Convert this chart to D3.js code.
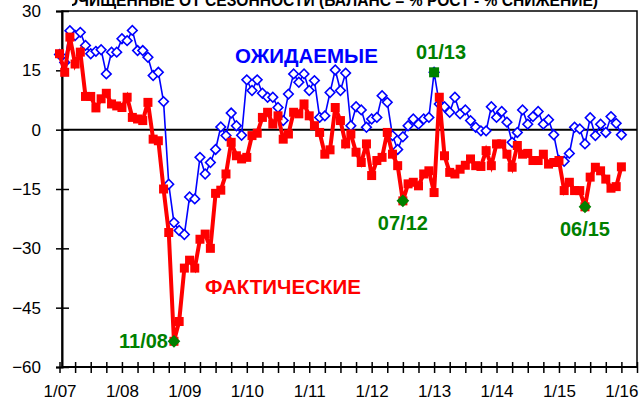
<!DOCTYPE html>
<html>
<head>
<meta charset="utf-8">
<script src="https://cdn.jsdelivr.net/npm/d3@7"></script>
<style>
  body { margin: 0; background: #fff; }
  svg { display: block; font-family: Arial, "Liberation Sans", sans-serif; }
</style>
</head>
<body>
<div id="chart"></div>
<script>
// monthly values, first point = 1/07, last point = 1/16
var yearLabels = ["1/07", "1/08", "1/09", "1/10", "1/11", "1/12", "1/13", "1/14", "1/15", "1/16"];
var yTicks = [-60, -45, -30, -15, 0, 15, 30];

var actual = [
  19.2, 14.5, 23.4, 16.6, 19.6, 8.4, 8.4, 5.5, 7.8, 9.2,
  6.5, 6, 5.6, 8.2, 3.1, 2.7, 2.3, 6.9, -2.4, -2.8,
  -15, -26, -53.5, -48.5, -35, -33, -35, -27.7, -26.4, -30,
  -16.1, -15.3, -11.2, -3.2, -6.6, -7.4, -7, -1.5, -0.9, 3.1,
  4.4, 1.4, 3.5, -2.4, -1.1, 4.4, 4, 6.5, 3.5, 1,
  -0.7, -6.2, -5.1, 5.6, 2.3, -3.6, -1.1, -5.7, -8.3, -3.6,
  -11.6, -7.8, -7, -0.7, -6.2, -9.1, -18, -13.7, -13.3, -14.2,
  -11.2, -10.4, -15.9, 8.2, -6.6, -10.8, -11.2, -10, -9, -7.4,
  -9.1, -9.3, -5.3, -9.1, -3.6, -3.6, -6.2, -9.5, -4, -6.2,
  -6, -7.8, -7.8, -6.2, -8.7, -8.3, -7.8, -15.4, -13.3, -15.4,
  -15.4, -19.5, -12, -9.5, -10.4, -12.5, -14.8, -14.4, -9.4
];

var expected = [
  19, 17, 25, 23.8, 24.6, 21.3, 19.2, 19.8, 20.2, 14.1,
  19.6, 19.6, 23, 22.5, 25.1, 20, 20, 18.3, 13.7, 14.5,
  7.1, -13.8, -23.5, -25.5, -26.5, -17, -17.5, -7, -11.2, -8.3,
  -5, 0.7, -1.5, 4.2, 1, -1.4, 12.6, 9.9, 12.6, 9.2,
  8.2, 8.2, 5.6, 2.3, 9, 14.1, 12, 14.1, 9.9, 12.4,
  3.1, 3.5, 9.4, 15.1, 9.9, 14.3, 1, 5.8, 5, 0.6,
  2.7, 3.1, 8.6, 6.9, -1.5, -5, -1.8, 1, 2.7, 1.4,
  2.7, 3.1, 14.5, 6.5, 5.8, 4.4, 8.2, 4, 5, 2.3,
  0.6, -0.3, -0.3, 5.8, 3.1, 4.6, 1.9, -3.2, -0.7, 5,
  1.4, 3.3, 4.6, 1.4, 2.5, -1.3, -7.8, -8, -6, 0.6,
  0.2, -3.6, 3, -1.5, 1.4, -0.7, 3.3, 1.6, -1.3
];

// highlighted points
var noteLabels = ["11/08", "07/12", "01/13", "06/15"];
var noteMonths = [22, 66, 72, 101];
var noteSeries = ["actual", "actual", "expected", "actual"];

var width = 642, height = 401;
var plotLeft = 62, plotRight = 637, plotTop = 11, plotBottom = 367;
var green = "#008000";

var svg = d3.select("#chart").append("svg")
            .attr("width", width)
            .attr("height", height);

var x = d3.scaleLinear()
          .domain([0, 111])
          .range([59.5, plotRight]);

var y = d3.scaleLinear()
          .domain([-60, 30])
          .range([plotBottom, plotTop]);

// title: only the lower half and the right part show in the picture
svg.append("clipPath").attr("id", "titleClip")
   .append("rect").attr("x", 72).attr("y", -20).attr("width", 570).attr("height", 40);

svg.append("text")
   .attr("clip-path", "url(#titleClip)")
   .attr("x", 598).attr("y", 6)
   .attr("text-anchor", "end")
   .attr("font-size", 15.6).attr("font-weight", "bold")
   .text("ОЧИЩЕННЫЕ ОТ СЕЗОННОСТИ (БАЛАНС = % РОСТ - % СНИЖЕНИЕ)");

// frame
svg.append("rect")
   .attr("x", plotLeft).attr("y", plotTop)
   .attr("width", plotRight - plotLeft).attr("height", plotBottom - plotTop)
   .attr("fill", "none").attr("stroke", "#000").attr("stroke-width", 1.5);

// zero line
svg.append("line")
   .attr("x1", plotLeft).attr("x2", plotRight)
   .attr("y1", y(0)).attr("y2", y(0))
   .attr("stroke", "#000").attr("stroke-width", 2);

// axes
var yAxis = d3.axisLeft(y).tickValues(yTicks).tickSize(6).tickPadding(15);
var gy = svg.append("g")
            .attr("transform", "translate(" + plotLeft + ",0)")
            .call(yAxis);
gy.select(".domain").attr("stroke-width", 2);
gy.selectAll(".tick line").attr("x1", 7).attr("stroke-width", 1.5);
gy.selectAll(".tick text").attr("font-size", 17).attr("font-family", null).attr("fill", "#000");

var xAxis = d3.axisBottom(x)
              .tickValues(d3.range(0, 112, 3))
              .tickSize(6).tickPadding(12)
              .tickFormat(function(d) { return d % 12 === 0 ? yearLabels[d / 12] : ""; });
var gx = svg.append("g")
            .attr("transform", "translate(0," + plotBottom + ")")
            .call(xAxis);
gx.select(".domain").remove();
gx.append("line").attr("x1", plotLeft).attr("x2", plotRight)
  .attr("stroke", "#000").attr("stroke-width", 2);
gx.selectAll(".tick line").attr("y1", -5).attr("stroke-width", 1.5);
gx.selectAll(".tick text").attr("font-size", 17).attr("font-family", null).attr("fill", "#000");

var line = d3.line()
             .x(function(d, i) { return x(i); })
             .y(function(d) { return y(d); });

// expected (blue, hollow diamonds)
svg.append("path")
   .datum(expected)
   .attr("d", line)
   .attr("fill", "none").attr("stroke", "#0000ff").attr("stroke-width", 1.6);

svg.selectAll(".exp")
   .data(expected)
   .enter().append("rect")
   .attr("class", "exp")
   .attr("x", -3.4).attr("y", -3.4)
   .attr("width", 6.8).attr("height", 6.8)
   .attr("transform", function(d, i) { return "translate(" + x(i) + "," + y(d) + ") rotate(45)"; })
   .attr("fill", "#fff").attr("stroke", "#0000ff").attr("stroke-width", 1.6);

// actual (red, filled squares)
svg.append("path")
   .datum(actual)
   .attr("d", line)
   .attr("fill", "none").attr("stroke", "#ff0000").attr("stroke-width", 4);

svg.selectAll(".act")
   .data(actual)
   .enter().append("rect")
   .attr("class", "act")
   .attr("x", function(d, i) { return x(i) - 4.5; })
   .attr("y", function(d) { return y(d) - 4.5; })
   .attr("width", 9).attr("height", 9)
   .attr("fill", "#ff0000");

// series names
svg.append("text")
   .attr("x", 235).attr("y", 63)
   .attr("font-size", 20.5).attr("font-weight", "bold").attr("fill", "#0000ff")
   .text("ОЖИДАЕМЫЕ");

svg.append("text")
   .attr("x", 205).attr("y", 294)
   .attr("font-size", 20.5).attr("font-weight", "bold").attr("fill", "#ff0000")
   .text("ФАКТИЧЕСКИЕ");

// highlighted points
noteLabels.forEach(function(label, k) {
  var m = noteMonths[k];
  var v = noteSeries[k] === "actual" ? actual[m] : expected[m];
  var px = x(m), py = y(v);
  if (label === "01/13") {
    svg.append("rect")
       .attr("x", px - 5).attr("y", py - 5)
       .attr("width", 10).attr("height", 10)
       .attr("fill", green);
  } else {
    svg.append("rect")
       .attr("x", -4.5).attr("y", -4.5)
       .attr("width", 9).attr("height", 9)
       .attr("transform", "translate(" + px + "," + py + ") rotate(45)")
       .attr("fill", green);
  }
  var t = svg.append("text")
             .attr("font-size", 20).attr("font-weight", "bold").attr("fill", green)
             .text(label);
  if (label === "11/08") {
    t.attr("x", px - 6).attr("y", py + 7).attr("text-anchor", "end");
  } else if (label === "01/13") {
    t.attr("x", px + 7).attr("y", py - 13).attr("text-anchor", "middle");
  } else {
    t.attr("x", px).attr("y", py + 29).attr("text-anchor", "middle");
  }
});
</script>
</body>
</html>
